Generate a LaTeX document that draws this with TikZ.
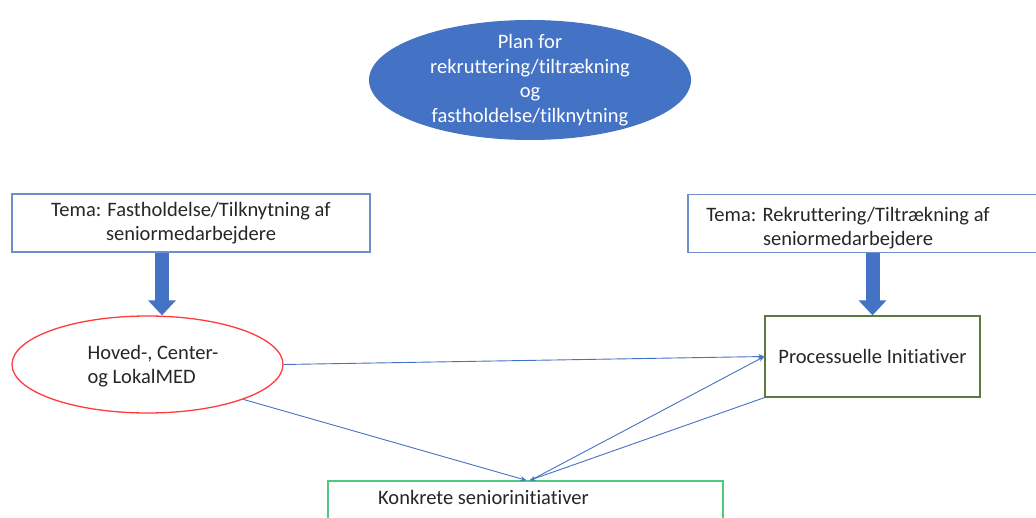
\documentclass[tikz,border=0pt]{standalone}
\usepackage{fontspec}
\setmainfont{Carlito}[Ligatures=NoCommon]
\usetikzlibrary{arrows.meta,shapes.geometric}

\definecolor{planblue}{HTML}{4472C4}
\definecolor{temablue}{HTML}{6F8FCC}
\definecolor{medred}{HTML}{FF3B3B}
\definecolor{procgreen}{HTML}{5B7B3E}
\definecolor{konkgreen}{HTML}{4FC97E}

\tikzset{
  txt/.style={font=\fontsize{20.5}{24.5}\selectfont, text=black!85, inner sep=0pt},
  temabox/.style={draw=temablue, line width=1.3pt, minimum width=358pt, minimum height=58pt},
  bigarrow/.style={draw=planblue, line width=14pt, -{Triangle[width=27pt,length=15pt]}},
  link/.style={draw=planblue, line width=0.9pt, -{Stealth[length=6pt,width=5pt]}}
}

\begin{document}
\begin{tikzpicture}[x=1pt,y=-1pt]
\clip (0,0) rectangle (1036,518);

% top plan
\node[ellipse, fill=planblue, minimum width=322pt, minimum height=120pt] (plan) at (530,80) {};
\node[txt, text=white, align=center] (plantext) at (plan.center) {Plan for\\rekruttering/tiltrækning\\og\\fastholdelse/tilknytning};

% the two themes
\node[temabox, txt, align=center] (tfast) at (191,223) {Tema: Fastholdelse/Tilknytning af\\seniormedarbejdere};
\node[temabox, minimum width=352pt] (trek) at (864,223.5) {};
\node[txt, align=center] (trektext) at (848,228) {Tema: Rekruttering/Tiltrækning af\\seniormedarbejdere};

% MED and initiatives
\node[ellipse, draw=medred, line width=1.3pt, minimum width=271pt, minimum height=97pt] (hoved) at (147.5,364.5) {};
\node[txt, align=left] (hovedtext) at (153,366) {Hoved-, Center-\\og LokalMED};
\node[draw=procgreen, line width=1.3pt, minimum width=215pt, minimum height=81pt, txt] (proc) at (872.5,356.5) {Processuelle Initiativer};
\node[draw=konkgreen, line width=1.3pt, minimum width=395pt, minimum height=80pt] (konk) at (525.5,521) {};
\node[txt, anchor=west] (konktext) at (378,497) {Konkrete seniorinitiativer};

% arrows
\draw[bigarrow] (tfast.south -| 162,0) -- ([xshift=14.5pt]hoved.north);
\draw[bigarrow] (trek.south -| proc.north) -- (proc.north);

\draw[link] (hoved.east) -- (proc.west);
\draw[link] (hoved.-20) -- ([xshift=1pt]konk.north);
\draw[link] ([xshift=5pt]konk.north) -- (proc.west);
\draw[link] (proc.south west) -- ([xshift=4pt]konk.north);
\end{tikzpicture}
\end{document}
